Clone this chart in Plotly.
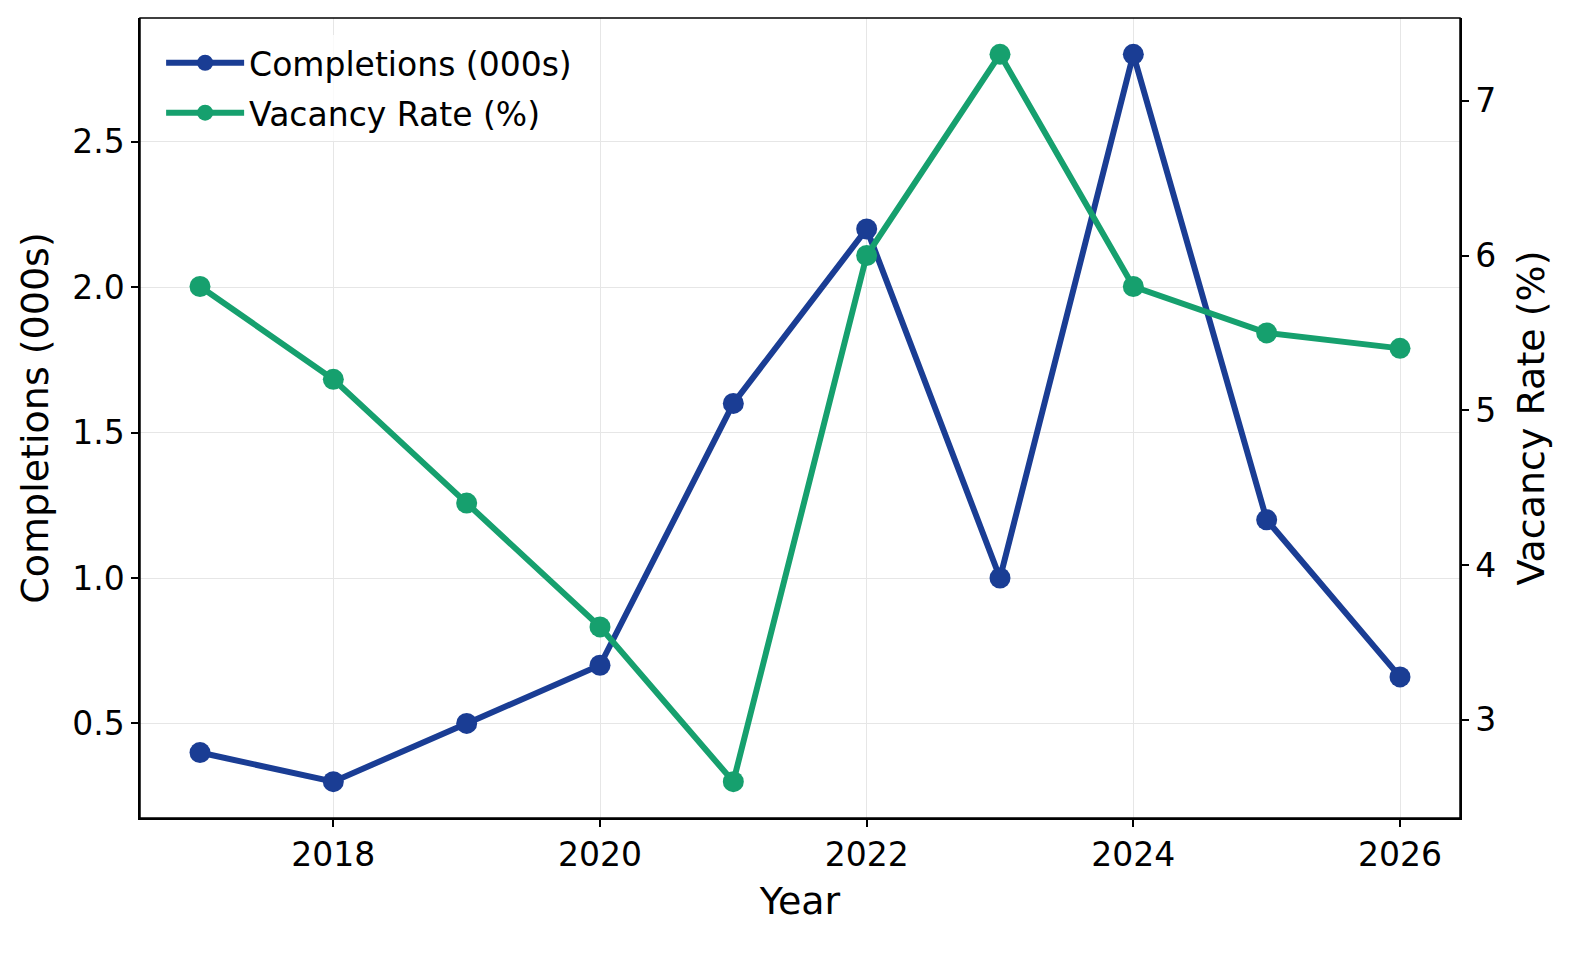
import plotly.graph_objects as go

years = [2017, 2018, 2019, 2020, 2021, 2022, 2023, 2024, 2025, 2026]
completions = [0.4, 0.3, 0.5, 0.7, 1.6, 2.2, 1.0, 2.8, 1.2, 0.66]
vacancy = [5.8, 5.2, 4.4, 3.6, 2.6, 6.0, 7.3, 5.8, 5.5, 5.4]

blue = "#1a3d94"
green = "#16a06e"

fig = go.Figure()
fig.add_trace(go.Scatter(
    x=years, y=completions, name="Completions (000s)", mode="lines+markers",
    line=dict(color=blue, width=6), marker=dict(size=21, color=blue),
    legendgroup="a",
))
fig.add_trace(go.Scatter(
    x=years, y=vacancy, name="Vacancy Rate (%)", mode="lines+markers",
    line=dict(color=green, width=6), marker=dict(size=21, color=green),
    yaxis="y2", legendgroup="b",
))

axis_common = dict(
    showline=True, linecolor="black", linewidth=1.5, mirror=False,
    ticks="outside", ticklen=7, tickwidth=1.5, tickcolor="black",
    tickfont=dict(size=33, color="black"), zeroline=False,
)

# page body has an 8px margin, so the figure is 16px smaller than the window
fig.update_layout(
    width=1579, height=939,
    margin=dict(l=132, r=127, t=10, b=129),
    plot_bgcolor="white", paper_bgcolor="white",
    font=dict(family="DejaVu Sans", color="black"),
    showlegend=True,
    legend=dict(x=0.016, y=0.979, xanchor="left", yanchor="top",
                font=dict(size=33), bgcolor="rgba(255,255,255,0.8)",
                itemwidth=78, tracegroupgap=4),
    xaxis=dict(
        **axis_common, range=[2016.55, 2026.45],
        tickvals=[2018, 2020, 2022, 2024, 2026],
        showgrid=True, gridcolor="#e6e6e6", gridwidth=1.2,
        title=dict(text="Year", font=dict(size=38), standoff=14),
    ),
    yaxis=dict(
        **axis_common, range=[0.175, 2.925],
        tickvals=[0.5, 1.0, 1.5, 2.0, 2.5], tickformat=".1f",
        showgrid=True, gridcolor="#e6e6e6", gridwidth=1.2,
        title=dict(text="Completions (000s)", font=dict(size=38), standoff=12),
    ),
    yaxis2=dict(
        **axis_common, range=[2.365, 7.535], overlaying="y", side="right",
        tickvals=[3, 4, 5, 6, 7], showgrid=False,
        title=dict(text="Vacancy Rate (%)", font=dict(size=38), standoff=22),
    ),
    shapes=[dict(type="rect", xref="paper", yref="paper", x0=0, y0=0, x1=1, y1=1,
                 line=dict(color="black", width=1.5), fillcolor="rgba(0,0,0,0)")],
)

fig.write_html("out.html")
